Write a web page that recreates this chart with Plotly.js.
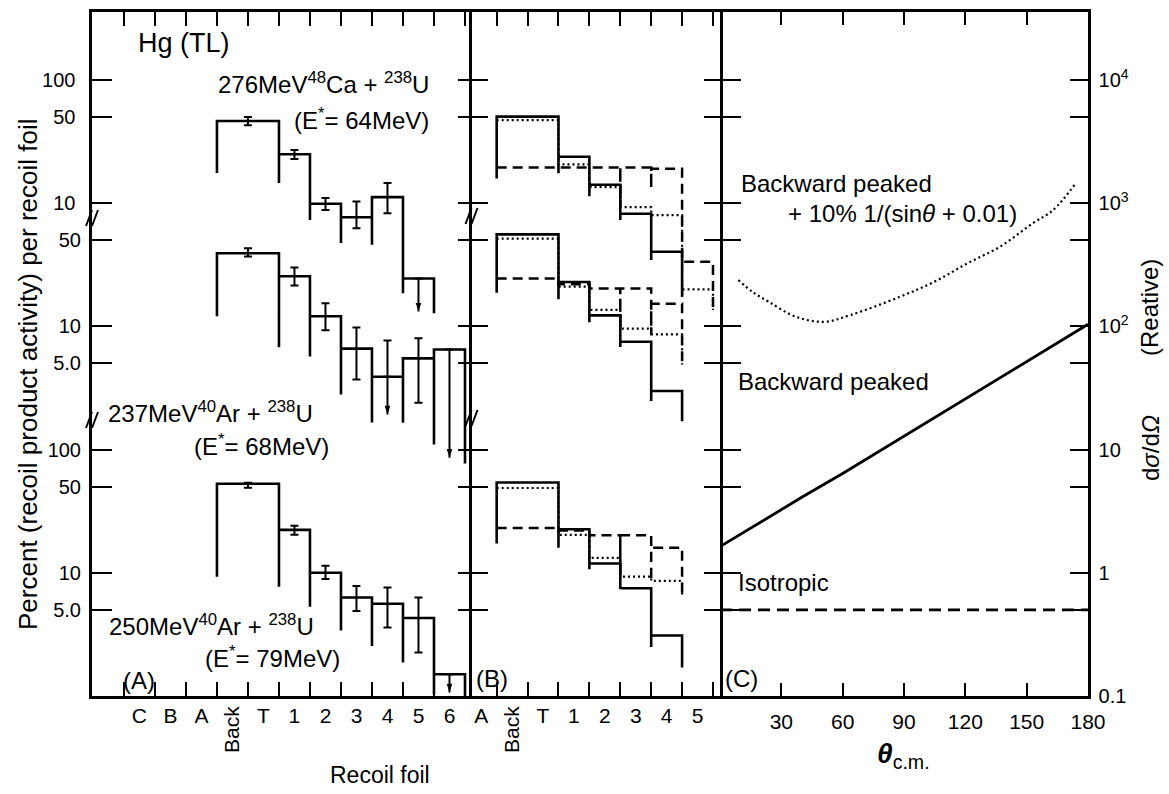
<!DOCTYPE html>
<html><head><meta charset="utf-8">
<script src="https://cdn.plot.ly/plotly-3.0.1.min.js"></script>
<style>html,body{margin:0;padding:0;background:#fff}#chart{width:1169px;height:794px}</style>
</head><body><div id="chart"></div>
<script>
// ================= DATA =================
// Recoil foil index: C=0, B=1, A=2, Back=3, T=4, 1=5, 2=6, 3=7, 4=8, 5=9, 6=10
const foilLabelsA = ['C','B','A','T','1','2','3','4','5','6'];
const foilIndexA  = [0,1,2,4,5,6,7,8,9,10];
const foilLabelsB = ['A','T','1','2','3','4','5'];
const foilIndexB  = [2,4,5,6,7,8,9];
const backIndex   = 3;
const binLo = [2.5, 4.5, 5.5, 6.5, 7.5, 8.5, 9.5];   // first bin spans Back+T
const binHi = [4.5, 5.5, 6.5, 7.5, 8.5, 9.5, 10.5];

// (A) 276 MeV 48Ca + 238U (upper block)
const caVal   = [46.5, 25.0, 9.9, 7.7, 11.2, 2.45];
const caErrHi = [50, 27, 11, 10.3, 14.6, null];
const caErrLo = [43, 22.8, 8.8, 6.25, 8.3, null];
const caLimit = [null, null, null, null, null, 1.32];
const caDrop  = [17.6, 14.6, 7.3, 4.75, 4.6, 1.86, 1.28];

// (A) 237 MeV 40Ar + 238U (middle block)
const ar237Val   = [39.2, 25.5, 12.1, 6.6, 3.9, 5.5, 6.5];
const ar237ErrHi = [43, 30, 15.4, 9.8, 7.7, 8.0, null];
const ar237ErrLo = [37, 21.5, 9.3, 3.7, null, 2.4, null];
const ar237Limit = [null, null, null, null, 1.93, null, 0.86];
const ar237Drop  = [12.1, 6.76, 5.7, 2.8, 1.66, 1.65, 1.1, 0.77];

// (A) 250 MeV 40Ar + 238U (lower block)
const ar250Val   = [52.8, 22.3, 10.0, 6.3, 5.6, 4.3, 1.5];
const ar250ErrHi = [53.7, 24.1, 11.4, 7.8, 7.6, 6.3, null];
const ar250ErrLo = [49, 20.4, 8.9, 4.9, 3.6, 2.25, null];
const ar250Limit = [null, null, null, null, null, null, 1.07];
const ar250Drop  = [9.3, 7.7, 5.3, 3.4, 2.55, 1.87, 1.03, 1.0];

// (B) calculated distributions: solid = backward peaked, dotted = +10% 1/(sin+0.01), dashed = isotropic
const bTopSolid = [50.4, 23.8, 14.1, 8.2, 4.04];
const bTopSolidDrop = [15.9, 17.5, 11.4, 7.3, 3.46, 1.74];
const bTopDot = [47.3, 20.7, 13.5, 9.3, 8.0, 2.0];
const bTopDotDrop = [47.3, 20.7, 13.5, 9.3, 8.0, 1.74, 1.36];
const bTopDash = [19.5, 19.5, 19.5, 19.5, 19.0, 3.35];
const bTopDashDrop = [19.5, 19.5, 19.5, 9.3, 13.2, 3.35, 1.36];

const bMidSolid = [55.8, 22.9, 12.3, 7.5, 2.99];
const bMidSolidDrop = [18.8, 16.6, 10.8, 6.8, 2.48, 1.7];
const bMidDot = [51.5, 21.0, 13.6, 9.6, 8.6];
const bMidDotDrop = [51.5, 21.0, 13.6, 9.6, 8.6, 4.9];
const bMidDash = [24.5, 22.0, 20.3, 20.3, 15.3];
const bMidDashDrop = [24.5, 22.0, 20.3, 9.6, 8.6, 4.9];

const bBotSolid = [54.0, 22.6, 11.9, 7.5, 3.1];
const bBotSolidDrop = [17.3, 16.0, 10.7, 7.4, 2.5, 1.7];
const bBotDot = [48.8, 20.3, 13.2, 9.3, 8.6];
const bBotDotDrop = [48.8, 20.3, 13.2, 9.3, 8.6, 6.4];
const bBotDash = [23.1, 22.0, 20.2, 20.2, 16.0];
const bBotDashDrop = [23.1, 22.0, 20.2, 9.8, 8.6, 6.4];

// (C) angular distributions dσ/dΩ (relative)
const thetaBP = [0, 20, 40, 60, 80, 100, 120, 140, 160, 180];
const valBP   = [1.63, 2.6, 4.1, 6.4, 10.2, 16.3, 26, 41, 65, 104];
const thetaBPS = [9, 16, 24, 37, 51, 64, 88, 105, 121, 137, 153, 163, 174];
const valBPS   = [238, 190, 158, 120, 109, 124, 174, 231, 325, 444, 687, 881, 1452];
const thetaIso = [0, 180];
const valIso   = [0.5, 0.5];
const thetaTicks = [30, 60, 90, 120, 150, 180];

// y tick labels
const topTicks = [100, 50, 10], topTickText = ['100','50','10'];
const midTicks = [50, 10, 5], midTickText = ['50','10','5.0'];
const botTicks = [100, 50, 10, 5], botTickText = ['100','50','10','5.0'];
const cMajor = [1e4, 1e3, 100, 10, 1, 0.1];
const cMajorText = ['10<sup>4</sup>','10<sup>3</sup>','10<sup>2</sup>','10','1','0.1'];
const cMinor = [5e3, 500, 50, 5, 0.5];
const cAll = [1e4, 5e3, 1e3, 500, 100, 50, 10, 5, 1, 0.5];

// ================= LAYOUT HELPERS =================
const W = 1169, H = 794;
const px = x => x / W, py = y => 1 - y / H;
const yDom = [py(696), py(12)];
const FONT = '"Liberation Sans", Arial, sans-serif';
const LW = 2.6, K = '#000';
const tickFont = {family: FONT, size: 20, color: K};

const traces = [];
function stepXY(vals, drops) {
  const xs = [], ys = [];
  for (let k = 0; k <= vals.length; k++) {
    const e = k === 0 ? binLo[0] : binHi[k - 1];
    const left = k > 0 ? vals[k - 1] : null;
    const right = k < vals.length ? vals[k] : null;
    if (left === null) { xs.push(e, e); ys.push(drops[k], right); }
    else if (right === null) { xs.push(e, e); ys.push(left, drops[k]); }
    else { xs.push(e, e, e); ys.push(left, drops[k], right); }
    if (right !== null) { xs.push(binHi[k]); ys.push(right); }
  }
  return {xs, ys};
}
function addStep(vals, drops, xa, ya, dash, width) {
  const s = stepXY(vals, drops);
  traces.push({type:'scatter', mode:'lines', x:s.xs, y:s.ys, xaxis:xa, yaxis:ya,
    line:{color:K, width:width || LW, dash:dash || 'solid'}, hoverinfo:'skip', showlegend:false});
}
function addErrors(vals, hi, lo, xa, ya) {
  const xc = vals.map((v, i) => (binLo[i] + binHi[i]) / 2);
  traces.push({type:'scatter', mode:'markers', x:xc, y:vals, xaxis:xa, yaxis:ya,
    marker:{size:1, color:'rgba(0,0,0,0)'}, hoverinfo:'skip', showlegend:false,
    error_y:{type:'data', symmetric:false, visible:true,
      array: vals.map((v, i) => hi[i] == null ? 0 : hi[i] - v),
      arrayminus: vals.map((v, i) => lo[i] == null ? 0 : v - lo[i]),
      color:K, thickness:2, width:4}});
}
function addArrows(vals, lim, xa, ya) {
  const xs = [], ys = [], tx = [], ty = [];
  lim.forEach((t, i) => {
    if (t == null) return;
    const xc = (binLo[i] + binHi[i]) / 2;
    xs.push(xc, xc, null); ys.push(vals[i], t, null); tx.push(xc); ty.push(t);
  });
  traces.push({type:'scatter', mode:'lines', x:xs, y:ys, xaxis:xa, yaxis:ya,
    line:{color:K, width:2}, hoverinfo:'skip', showlegend:false});
  traces.push({type:'scatter', mode:'markers', x:tx, y:ty, xaxis:xa, yaxis:ya,
    marker:{symbol:'arrow', angle:180, size:9, color:K, line:{width:0}}, hoverinfo:'skip', showlegend:false});
}

// Panel A
addStep(caVal, caDrop, 'x', 'y'); addErrors(caVal, caErrHi, caErrLo, 'x', 'y'); addArrows(caVal, caLimit, 'x', 'y');
addStep(ar237Val, ar237Drop, 'x', 'y2'); addErrors(ar237Val, ar237ErrHi, ar237ErrLo, 'x', 'y2'); addArrows(ar237Val, ar237Limit, 'x', 'y2');
addStep(ar250Val, ar250Drop, 'x', 'y3'); addErrors(ar250Val, ar250ErrHi, ar250ErrLo, 'x', 'y3'); addArrows(ar250Val, ar250Limit, 'x', 'y3');

// Panel B
const DOT = '2px,3px', DASH = '10px,6px';
addStep(bTopDash, bTopDashDrop, 'x2', 'y', DASH, 2.5);
addStep(bTopDot, bTopDotDrop, 'x2', 'y', DOT, 2.2);
addStep(bTopSolid, bTopSolidDrop, 'x2', 'y');
addStep(bMidDash, bMidDashDrop, 'x2', 'y2', DASH, 2.5);
addStep(bMidDot, bMidDotDrop, 'x2', 'y2', DOT, 2.2);
addStep(bMidSolid, bMidSolidDrop, 'x2', 'y2');
addStep(bBotDash, bBotDashDrop, 'x2', 'y3', DASH, 2.5);
addStep(bBotDot, bBotDotDrop, 'x2', 'y3', DOT, 2.2);
addStep(bBotSolid, bBotSolidDrop, 'x2', 'y3');

// Panel C
traces.push({type:'scatter', mode:'lines', x:thetaBP, y:valBP, xaxis:'x3', yaxis:'y4', line:{color:K, width:2.8}, hoverinfo:'skip', showlegend:false});
traces.push({type:'scatter', mode:'lines', x:thetaBPS, y:valBPS, xaxis:'x3', yaxis:'y4', line:{color:K, width:2.2, dash:DOT, shape:'spline'}, hoverinfo:'skip', showlegend:false});
traces.push({type:'scatter', mode:'lines', x:thetaIso, y:valIso, xaxis:'x3', yaxis:'y4', line:{color:K, width:2.8, dash:'12px,7px'}, hoverinfo:'skip', showlegend:false});

// empty traces registering overlay / divider axes
[['x4','y'],['x5','y'],['x6','y'],['x7','y'],['x2','y5'],['x2','y6'],['x2','y7'],['x2','y8'],['x3','y9']].forEach(p =>
  traces.push({type:'scatter', mode:'lines', x:[], y:[], xaxis:p[0], yaxis:p[1], hoverinfo:'skip', showlegend:false}));

// ================= AXES =================
const xEdgesA = [-0.5,0.5,1.5,2.5,3.5,4.5,5.5,6.5,7.5,8.5,9.5,10.5];
const xEdgesB = [2.5,3.5,4.5,5.5,6.5,7.5,8.5,9.5];
const rangeA = [-1.53, 10.71], rangeB = [1.685, 9.727];
const domA = [px(92), px(471.5)], domB = [px(471.5), px(720)], domC = [px(720), px(1088)];

function xFrame(dom, range, tickvals, anchor) {
  return {domain:dom, range, anchor, tickmode:'array', tickvals, ticks:'inside', ticklen:14, tickwidth:2, tickcolor:K,
    showticklabels:false, showline:true, linewidth:LW, linecolor:K, mirror:'ticks', showgrid:false, zeroline:false, fixedrange:true};
}
function xLabels(over, range, tickvals, ticktext, angle) {
  return {overlaying:over, range, anchor:'y', tickmode:'array', tickvals, ticktext, ticks:'', showline:false,
    showgrid:false, zeroline:false, tickfont:{family:FONT, size:21, color:K}, tickangle:angle || 0, ticklabelstandoff:5, fixedrange:true};
}
function yAx(range, extra) {
  return Object.assign({type:'log', range, domain:yDom, showgrid:false, zeroline:false, showline:false,
    ticks:'', showticklabels:false, fixedrange:true, tickcolor:K, tickwidth:2, linecolor:K, linewidth:LW}, extra);
}
const rT = [-3, 2.552], rM = [-2, 3.552], rB = [0, 5.552], rC = [-1, 4.552];

const layout = {
  width: W, height: H, margin:{l:0, r:0, t:0, b:0}, paper_bgcolor:'#fff', plot_bgcolor:'rgba(0,0,0,0)',
  showlegend:false, font:{family:FONT, color:K},
  xaxis: xFrame(domA, rangeA, xEdgesA, 'y'),
  xaxis2: xFrame(domB, rangeB, xEdgesB, 'y'),
  xaxis3: Object.assign(xFrame(domC, [0, 180], thetaTicks, 'y4'), {showticklabels:true, ticktext:thetaTicks.map(String),
    ticklen:13, tickfont:{family:FONT, size:21, color:K}, ticklabelstandoff:5}),
  xaxis4: xLabels('x', rangeA, foilIndexA, foilLabelsA),
  xaxis5: xLabels('x', rangeA, [backIndex], ['Back'], -90),
  xaxis6: xLabels('x2', rangeB, foilIndexB, foilLabelsB),
  xaxis7: xLabels('x2', rangeB, [backIndex], ['Back'], -90),
  yaxis: yAx(rT, {anchor:'x', side:'left', showline:true, tickmode:'array', tickvals:topTicks, ticktext:topTickText,
    ticks:'inside', ticklen:20, showticklabels:true, tickfont:tickFont, ticklabelstandoff:10}),
  yaxis2: yAx(rM, {overlaying:'y', anchor:'x', side:'left', tickmode:'array', tickvals:midTicks, ticktext:midTickText,
    ticks:'inside', ticklen:20, showticklabels:true, tickfont:tickFont, ticklabelstandoff:10}),
  yaxis3: yAx(rB, {overlaying:'y', anchor:'x', side:'left', tickmode:'array', tickvals:botTicks, ticktext:botTickText,
    ticks:'inside', ticklen:20, showticklabels:true, tickfont:tickFont, ticklabelstandoff:10}),
  yaxis4: yAx(rC, {overlaying:'y', anchor:'x3', side:'right', showline:true, tickmode:'array', tickvals:cMajor, ticktext:cMajorText,
    ticks:'inside', ticklen:18, showticklabels:true, tickfont:tickFont, ticklabelstandoff:4}),
  yaxis9: yAx(rC, {overlaying:'y', anchor:'x3', side:'right', tickmode:'array', tickvals:cMinor, ticks:'inside', ticklen:18}),
  yaxis5: yAx(rC, {overlaying:'y', anchor:'x2', side:'left', showline:true, tickmode:'array', tickvals:cAll, ticks:'outside', ticklen:11}),
  yaxis6: yAx(rC, {overlaying:'y', anchor:'x2', side:'left', tickmode:'array', tickvals:cAll, ticks:'inside', ticklen:16}),
  yaxis7: yAx(rC, {overlaying:'y', anchor:'x2', side:'right', showline:true, tickmode:'array', tickvals:cAll, ticks:'outside', ticklen:18}),
  yaxis8: yAx(rC, {overlaying:'y', anchor:'x2', side:'right', tickmode:'array', tickvals:cAll, ticks:'inside', ticklen:16}),
  annotations: [],
  shapes: []
};

function ann(text, x, y, o) {
  o = o || {};
  layout.annotations.push({text, x:px(x), y:py(y), xref:'paper', yref:'paper', showarrow:false,
    xanchor:o.xa || 'center', yanchor:o.ya || 'middle', textangle:o.angle || 0,
    font:{family:FONT, size:o.size || 23, color:K}});
}
ann('Hg (TL)', 136, 43, {xa:'left', size:27});
ann('276MeV<sup>48</sup>Ca + <sup>238</sup>U', 216, 83, {xa:'left', size:24});
ann('(E<sup>*</sup>= 64MeV)', 292, 119, {xa:'left', size:24});
ann('237MeV<sup>40</sup>Ar + <sup>238</sup>U', 106, 412, {xa:'left', size:24});
ann('(E<sup>*</sup>= 68MeV)', 192, 445, {xa:'left', size:24});
ann('250MeV<sup>40</sup>Ar + <sup>238</sup>U', 107, 625, {xa:'left', size:24});
ann('(E<sup>*</sup>= 79MeV)', 203, 657, {xa:'left', size:24});
ann('(A)', 139, 680, {size:24});
ann('(B)', 492, 678, {size:24});
ann('(C)', 741, 678, {size:24});
ann('Backward peaked', 739, 183, {xa:'left', size:24});
ann('+ 10% 1/(sin<i>θ</i> + 0.01)', 786, 213, {xa:'left', size:24});
ann('Backward peaked', 736, 382, {xa:'left', size:24});
ann('Isotropic', 736, 582, {xa:'left', size:24});
ann('Percent (recoil product activity) per recoil foil', 28, 374, {angle:-90, size:26});
ann('d<i>σ</i>/d<i>Ω</i>', 1150, 448, {angle:-90, size:24});
ann('(Reative)', 1150, 308, {angle:-90, size:24});
ann('Recoil foil', 380, 775, {size:23});
ann('<b><i>θ</i></b><sub>c.m.</sub>', 903, 755, {size:28});

// axis-break marks
[[92, 218], [92, 420], [471.5, 216], [471.5, 418]].forEach(([x, y]) => {
  [-3, 3].forEach(d => layout.shapes.push({type:'line', xref:'paper', yref:'paper',
    x0:px(x + d - 3), y0:py(y + 8), x1:px(x + d + 3), y1:py(y - 8), line:{color:K, width:2}}));
});

Plotly.newPlot('chart', traces, layout, {staticPlot:true, displayModeBar:false});
</script></body></html>
